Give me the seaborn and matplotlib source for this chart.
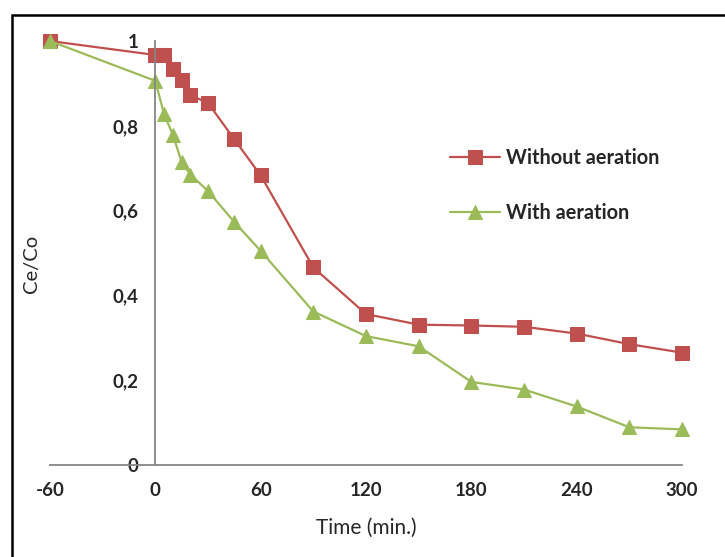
import matplotlib
matplotlib.use('Agg')
import matplotlib.pyplot as plt
import seaborn as sns
from matplotlib.patches import Rectangle

# Data
time = [-60, 0, 5, 10, 15, 20, 30, 45, 60, 90, 120, 150, 180, 210, 240, 270, 300]
without_aeration = [1.0, 0.967, 0.967, 0.935, 0.909, 0.872, 0.854, 0.768, 0.683,
                    0.466, 0.356, 0.331, 0.329, 0.326, 0.310, 0.285, 0.265]
with_aeration = [1.0, 0.906, 0.827, 0.779, 0.714, 0.685, 0.646, 0.573, 0.505,
                 0.362, 0.304, 0.280, 0.196, 0.178, 0.138, 0.089, 0.084]
x_ticks = [-60, 0, 60, 120, 180, 240, 300]
y_ticks = [0, 0.2, 0.4, 0.6, 0.8, 1.0]
y_ticklabels = ['0', '0,2', '0,4', '0,6', '0,8', '1']

sns.set_style('white')
plt.rcParams['font.family'] = ['Lato', 'DejaVu Sans']

W, H = 725, 557
fig = plt.figure(figsize=(W / 100, H / 100), dpi=100)
ax = fig.add_axes([50 / W, 1 - 465 / H, (682 - 50) / W, (465 - 41) / H])

red = '#C0504D'
green = '#9BBB59'
grey = '#868686'

sns.lineplot(x=time, y=without_aeration, ax=ax, color=red, marker='s',
             markersize=9.5, markeredgecolor=red, linewidth=1.6,
             label='Without aeration', clip_on=False)
sns.lineplot(x=time, y=with_aeration, ax=ax, color=green, marker='^',
             markersize=10.5, markeredgecolor=green, linewidth=1.6,
             label='With aeration', clip_on=False)

# axis lines: y axis crosses at x=0
ax.spines['top'].set_visible(False)
ax.spines['right'].set_visible(False)
ax.spines['left'].set_position(('data', 0))
for s in ('left', 'bottom'):
    ax.spines[s].set_color(grey)
    ax.spines[s].set_linewidth(1.3)

ax.set_xlim(-60, 300)
ax.set_ylim(0, 1)
ax.set_xticks(x_ticks)
ax.set_xticklabels([str(t) for t in x_ticks], fontweight='bold', fontsize=13.5)
ax.set_yticks(y_ticks)
ax.set_yticklabels(y_ticklabels, fontweight='bold', fontsize=13.5)
ax.tick_params(axis='both', direction='out', length=4, width=1.3, color=grey)
ax.tick_params(axis='x', pad=8)
ax.tick_params(axis='y', pad=8)
ax.set_xlabel('')
ax.set_ylabel('')

fig.text(32 / W, 1 - 264 / H, 'Ce/Co', rotation=90, ha='center', va='center', fontsize=14.5)
fig.text(366 / W, 1 - 528 / H, 'Time (min.)', ha='center', va='center', fontsize=15)

ax.legend(loc='upper left', bbox_to_anchor=(450 / W, 1 - 148 / H),
          bbox_transform=fig.transFigure, frameon=False, borderpad=0,
          borderaxespad=0, handlelength=2.5, handletextpad=0.3,
          labelspacing=1.75, prop={'weight': 'bold', 'size': 14.3})

# outer frame (top/left visible in the reference)
fig.patches.append(Rectangle((11.5 / W, -0.5), 2, 1.5 - 14.5 / H, fill=False,
                             edgecolor='black', linewidth=1.8,
                             transform=fig.transFigure, figure=fig))

fig.savefig('out.png', dpi=100)
